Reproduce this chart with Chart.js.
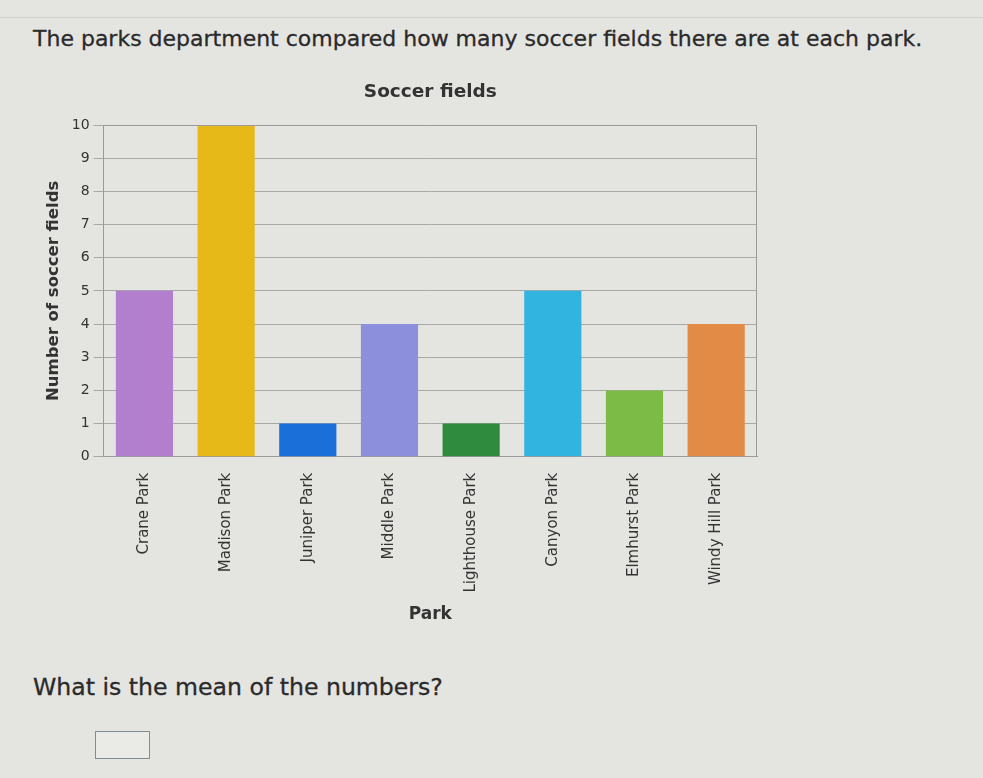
<!DOCTYPE html>
<html>
<head>
<meta charset="utf-8">
<script src="https://cdn.jsdelivr.net/npm/chart.js@4.4.1/dist/chart.umd.min.js"></script>
<style>
  html, body { margin: 0; padding: 0; background: #e4e4e1; width: 983px; height: 778px; overflow: hidden; }
  #topline { position: absolute; left: 0; top: 17px; width: 983px; height: 1px; background: #cfcfcc; }
  #heading { position: absolute; left: 33px; top: 26px; font-family: "DejaVu Sans", sans-serif; font-size: 22px; color: #2a2a2a; white-space: nowrap; -webkit-text-stroke: 0.3px #2a2a2a; }
  #question { position: absolute; left: 33px; top: 673px; font-family: "DejaVu Sans", sans-serif; font-size: 23.6px; color: #2a2a2a; white-space: nowrap; -webkit-text-stroke: 0.3px #2a2a2a; }
  #answer { position: absolute; left: 95px; top: 731px; width: 53px; height: 26px; border: 1px solid #7f8c96; background: #eaeae7; }
  #wrap { position: absolute; left: 0; top: 70px; width: 854px; height: 561px; }
</style>
</head>
<body>
<div id="topline"></div>
<div id="heading">The parks department compared how many soccer fields there are at each park.</div>
<div id="wrap"><canvas id="c" width="854" height="561"></canvas></div>
<div id="question">What is the mean of the numbers?</div>
<div id="answer"></div>
<script>
const chartTitle = "Soccer fields";
const categories = ["Crane Park", "Madison Park", "Juniper Park", "Middle Park", "Lighthouse Park", "Canyon Park", "Elmhurst Park", "Windy Hill Park"];
const fieldCounts = [5, 10, 1, 4, 1, 5, 2, 4];
const barColors = ["#b27fcf", "#e6b818", "#1b6fd8", "#8c8fdc", "#2f8c3f", "#31b4e0", "#7cbb45", "#e28b47"];
const yTicks = [0, 1, 2, 3, 4, 5, 6, 7, 8, 9, 10];

new Chart(document.getElementById("c"), {
  type: "bar",
  data: {
    labels: categories,
    datasets: [{ data: fieldCounts, backgroundColor: barColors, borderWidth: 0, barPercentage: 0.7, categoryPercentage: 1.0 }]
  },
  options: {
    responsive: false,
    animation: false,
    devicePixelRatio: 1,
    layout: { padding: { left: 40, right: 97, top: 55, bottom: 2 } },
    plugins: {
      legend: { display: false },
      tooltip: { enabled: false },
      title: { display: false }
    },
    scales: {
      x: {
        grid: { display: false },
        border: { display: true, color: "#9a9a9a" },
        ticks: { color: "#333", font: { family: "DejaVu Sans", size: 15 }, minRotation: 90, maxRotation: 90, padding: 8 },
        title: { display: true, text: "Park", color: "#333", font: { family: "DejaVu Sans", size: 17, weight: "bold" }, padding: { top: 4 } }
      },
      y: {
        min: 0, max: 10,
        afterBuildTicks: (axis) => { axis.ticks = yTicks.map(v => ({ value: v })); },
        grid: { color: "#a8a8a6", lineWidth: 1, drawTicks: true, tickLength: 10 },
        border: { display: true, color: "#9a9a9a" },
        ticks: { color: "#333", font: { family: "DejaVu Sans", size: 14 }, padding: 4 },
        title: { display: true, text: "Number of soccer fields", color: "#333", font: { family: "DejaVu Sans", size: 16.5, weight: "bold" }, padding: { bottom: 4 } }
      }
    }
  },
  plugins: [{
    id: "frameAndTitle",
    afterDraw(chart) {
      const a = chart.chartArea, ctx = chart.ctx;
      ctx.save();
      ctx.strokeStyle = "#9a9a9a";
      ctx.lineWidth = 1;
      ctx.beginPath();
      ctx.moveTo(a.left, a.top + 0.5); ctx.lineTo(a.right, a.top + 0.5);
      ctx.moveTo(a.right - 0.5, a.top); ctx.lineTo(a.right - 0.5, a.bottom);
      ctx.stroke();
      ctx.fillStyle = "#333";
      ctx.font = "bold 18.5px 'DejaVu Sans'";
      ctx.textAlign = "center";
      ctx.textBaseline = "middle";
      ctx.fillText(chartTitle, (a.left + a.right) / 2, a.top - 33);
      ctx.restore();
    }
  }]
});
</script>
</body>
</html>
